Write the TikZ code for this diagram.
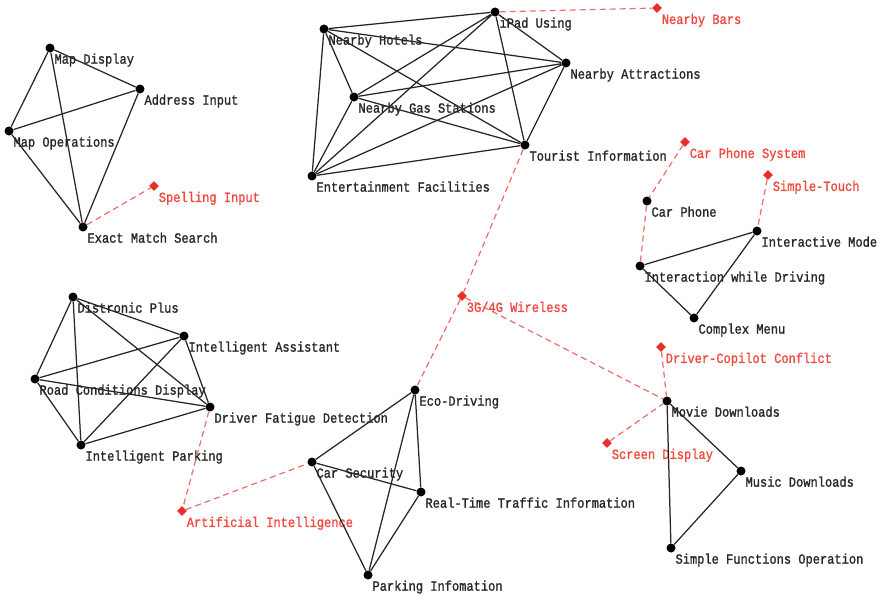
\documentclass[tikz,border=0pt]{standalone}
\usepackage{fontspec}
\usepackage{tikz}
\usetikzlibrary{positioning,shapes.geometric}
\newfontfamily\labfont[FakeStretch=0.86,FakeBold=1.2]{Liberation Mono}
\definecolor{hired}{HTML}{E8302A}
\definecolor{dashred}{HTML}{F06A6A}
\definecolor{labred}{HTML}{F04A40}

\begin{document}
\begin{tikzpicture}[x=1pt,y=-1pt,
  font=\labfont\fontsize{14}{14}\selectfont,
  dot/.style={circle,fill=black,inner sep=0pt,minimum size=9pt},
  dia/.style={diamond,fill=hired,inner sep=0pt,minimum size=10pt},
  lab/.style={inner sep=0pt,text=black!85},
  rlab/.style={inner sep=0pt,text=labred},
  edge/.style={line width=1.25pt,draw=black!85},
  link/.style={line width=1.2pt,draw=dashred,dash pattern=on 6pt off 4pt}]
\useasboundingbox (0,0) rectangle (878,594);
% ---- map cluster
\node[dot] (md) at (50,48) {};
\node[dot] (ai) at (140,89) {};
\node[dot] (mo) at (9,131) {};
\node[dot] (ems) at (83,227) {};
\node[dia] (si) at (154,186) {};
\node[lab,below right=2pt and 1pt of md] (mdt) {Map Display};
\node[lab,below right=2pt and 1pt of ai] (ait) {Address Input};
\node[lab,below right=2pt and 1pt of mo] (mot) {Map Operations};
\node[lab,below right=2pt and 1pt of ems] (emst) {Exact Match Search};
\node[rlab,below right=3pt and 2pt of si] (sit) {Spelling Input};
\draw[edge] (md) -- (ai) (md) -- (mo) (md) -- (ems) (ai) -- (mo) (ai) -- (ems) (mo) -- (ems);
\draw[link] (ems) -- (si);
% ---- tourist cluster
\node[dot] (ip) at (495,12) {};
\node[dot] (nh) at (324,29) {};
\node[dot] (na) at (566,63) {};
\node[dot] (ng) at (354,97) {};
\node[dot] (ti) at (525,145) {};
\node[dot] (ef) at (312,176) {};
\node[dia] (nb) at (657,8) {};
\node[lab,below right=2pt and 1pt of ip] (ipt) {iPad Using};
\node[lab,below right=2pt and 1pt of nh] (nht) {Nearby Hotels};
\node[lab,below right=2pt and 1pt of na] (nat) {Nearby Attractions};
\node[lab,below right=2pt and 1pt of ng] (ngt) {Nearby Gas Stations};
\node[lab,below right=2pt and 1pt of ti] (tit) {Tourist Information};
\node[lab,below right=2pt and 1pt of ef] (eft) {Entertainment Facilities};
\node[rlab,below right=3pt and 2pt of nb] (nbt) {Nearby Bars};
\draw[edge] (nh) -- (ip) (nh) -- (na) (nh) -- (ng) (nh) -- (ti) (nh) -- (ef);
\draw[edge] (ip) -- (na) (ip) -- (ng) (ip) -- (ti) (ip) -- (ef);
\draw[edge] (na) -- (ng) (na) -- (ti) (na) -- (ef);
\draw[edge] (ng) -- (ti) (ng) -- (ef) (ti) -- (ef);
\draw[link] (ip) -- (nb);
% ---- phone cluster
\node[dia] (cps) at (685,142) {};
\node[dot] (cp) at (647,201) {};
\node[dia] (st) at (768,175) {};
\node[dot] (im) at (757,231) {};
\node[dot] (iwd) at (640,266) {};
\node[dot] (cm) at (694,318) {};
\node[rlab,below right=3pt and 2pt of cps] (cpst) {Car Phone System};
\node[lab,below right=2pt and 1pt of cp] (cpt) {Car Phone};
\node[rlab,below right=3pt and 2pt of st] (stt) {Simple-Touch};
\node[lab,below right=2pt and 1pt of im] (imt) {Interactive Mode};
\node[lab,below right=2pt and 1pt of iwd] (iwdt) {Interaction while Driving};
\node[lab,below right=2pt and 1pt of cm] (cmt) {Complex Menu};
\draw[edge] (iwd) -- (im) (iwd) -- (cm) (im) -- (cm);
\draw[link] (cps) -- (cp) (cp) -- (iwd) (st) -- (im);
% ---- media cluster
\node[dia] (w) at (462,296) {};
\node[dia] (dcc) at (661,347) {};
\node[dot] (mvd) at (667,401) {};
\node[dia] (sd) at (607,443) {};
\node[dot] (mud) at (741,471) {};
\node[dot] (sfo) at (671,548) {};
\node[rlab,below right=3pt and 2pt of w] (wt) {3G/4G Wireless};
\node[rlab,below right=3pt and 2pt of dcc] (dcct) {Driver-Copilot Conflict};
\node[lab,below right=2pt and 1pt of mvd] (mvdt) {Movie Downloads};
\node[rlab,below right=3pt and 2pt of sd] (sdt) {Screen Display};
\node[lab,below right=2pt and 1pt of mud] (mudt) {Music Downloads};
\node[lab,below right=2pt and 1pt of sfo] (sfot) {Simple Functions Operation};
\draw[edge] (mvd) -- (mud) (mvd) -- (sfo) (mud) -- (sfo);
\draw[link] (ti) -- (w) (w) -- (mvd) (dcc) -- (mvd) (sd) -- (mvd);
% ---- driver cluster
\node[dot] (dp) at (73,297) {};
\node[dot] (ia) at (184,336) {};
\node[dot] (rcd) at (35,379) {};
\node[dot] (dfd) at (210,407) {};
\node[dot] (ipk) at (81,445) {};
\node[dia] (aint) at (182,511) {};
\node[lab,below right=2pt and 1pt of dp] (dpt) {Distronic Plus};
\node[lab,below right=2pt and 1pt of ia] (iat) {Intelligent Assistant};
\node[lab,below right=2pt and 1pt of rcd] (rcdt) {Road Conditions Display};
\node[lab,below right=2pt and 1pt of dfd] (dfdt) {Driver Fatigue Detection};
\node[lab,below right=2pt and 1pt of ipk] (ipkt) {Intelligent Parking};
\node[rlab,below right=3pt and 2pt of aint] (aintt) {Artificial Intelligence};
\draw[edge] (dp) -- (ia) (dp) -- (rcd) (dp) -- (dfd) (dp) -- (ipk) (ia) -- (rcd);
\draw[edge] (ia) -- (dfd) (ia) -- (ipk) (rcd) -- (dfd) (rcd) -- (ipk) (dfd) -- (ipk);
\draw[link] (dfd) -- (aint);
% ---- car cluster
\node[dot] (cs) at (312,462) {};
\node[dot] (ed) at (415,390) {};
\node[dot] (rt) at (421,492) {};
\node[dot] (pi) at (368,575) {};
\node[lab,below right=2pt and 1pt of cs] (cst) {Car Security};
\node[lab,below right=2pt and 1pt of ed] (edt) {Eco-Driving};
\node[lab,below right=2pt and 1pt of rt] (rtt) {Real-Time Traffic Information};
\node[lab,below right=2pt and 1pt of pi] (pit) {Parking Infomation};
\draw[edge] (ed) -- (cs) (ed) -- (rt) (ed) -- (pi) (cs) -- (rt) (cs) -- (pi) (rt) -- (pi);
\draw[link] (aint) -- (cs) (w) -- (ed);
\end{tikzpicture}
\end{document}
